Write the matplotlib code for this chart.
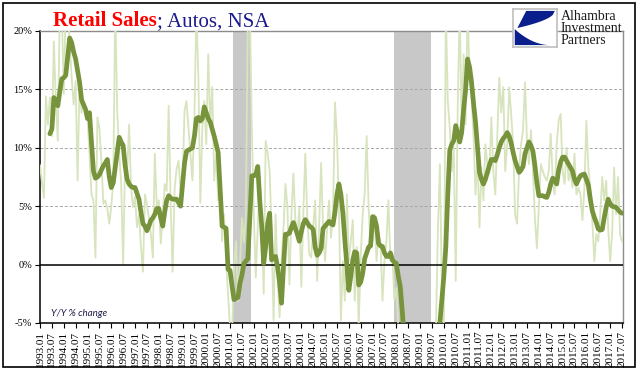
"""Retail Sales; Autos, NSA - Y/Y % change"""

import numpy as np
import matplotlib
matplotlib.use("Agg")
import matplotlib.pyplot as plt
from matplotlib.patches import Rectangle, Polygon

# monthly Y/Y % change, Jan 1993 .. Jul 2017 (raw, light line)
raw_1993 = [8.5, 7.0, 5.7, 14.4, 12.0, 14.3, 11.0, 19.1, 14.0, 10.6, 22.0, 22.0]
raw_1994 = [14.6, 22.0, 22.0, 19.0, 16.0, 13.7, 15.7, 7.2, 15.7, 13.0, 14.0, 13.4]
raw_1995 = [12.6, 9.5, 6.0, 5.5, 0.6, 12.6, 11.7, 8.9, 5.2, 5.5, 4.8, 3.5]
raw_1996 = [5.0, 7.0, 22.0, 13.2, 9.5, 7.0, 0.0, 9.0, 7.7, 12.0, 6.6, 4.9]
raw_1997 = [5.8, 3.2, 4.3, 1.5, -0.6, 6.0, 5.2, 4.0, 2.6, 0.6, 9.5, 5.0]
raw_1998 = [5.5, 1.8, 4.0, 6.9, 6.3, 13.6, 5.3, -0.6, 6.5, 8.2, 8.9, 6.3]
raw_1999 = [6.8, 13.2, 14.0, 11.7, 9.5, 7.2, 12.6, 22.0, 16.0, 5.3, 11.7, 14.0]
raw_2000 = [10.3, 18.0, 12.0, 15.2, 7.2, 9.5, 5.5, 6.9, 2.0, 4.3, 0.3, -2.5]
raw_2001 = [-5.5, -6.0, -0.3, 2.0, -3.1, -0.2, 4.0, 1.9, 4.3, 22.0, 22.0, 11.7]
raw_2002 = [4.3, -1.1, 3.2, 7.5, 4.0, -2.5, 10.6, 9.5, 8.0, 2.6, -4.8, 4.3]
raw_2003 = [-0.8, -4.5, 0.3, 3.2, 6.9, 4.9, -1.7, 4.3, 7.8, 3.8, 2.6, 4.9]
raw_2004 = [-1.9, 4.3, 9.5, 4.3, 0.9, 0.6, 3.2, 5.5, -1.4, 3.2, 8.7, 3.2]
raw_2005 = [0.3, 3.0, 5.5, 2.3, 4.3, 13.9, 10.9, 5.0, -4.8, 0.3, -3.1, 6.0]
raw_2006 = [0.3, 2.0, 3.8, -3.1, 1.5, -5.2, 0.6, 4.3, 6.0, 11.0, 4.9, 1.5]
raw_2007 = [2.0, 4.3, 0.3, 2.6, 2.0, -3.1, 0.3, 2.0, 5.5, 0.3, 0.9, -3.0]
raw_2008 = [-2.0, -5.5, -7.0, -9.0, -12.0, -15.0, -17.0, -19.0, -22.0, -25.0, -28.0, -30.0]
raw_2009 = [-30.0, -25.0, -24.0, -22.0, -20.0, -15.0, -10.0, -8.0, -5.5, 3.0, 8.6, -2.0]
raw_2010 = [-5.5, 22.0, 14.0, 11.7, 8.0, 10.0, -1.4, 13.4, 22.0, 12.0, 18.0, 12.0]
raw_2011 = [22.0, 16.0, 14.6, 10.9, 6.0, 9.5, 3.2, 8.3, 5.5, 10.3, 8.5, 7.8]
raw_2012 = [12.6, 8.0, 6.0, 11.0, 16.0, 13.0, 15.2, 8.0, 10.3, 15.2, 12.9, 10.3]
raw_2013 = [4.3, 3.5, 8.0, 10.3, 11.5, 15.6, 10.6, 8.6, 11.5, 8.0, 4.0, 1.4]
raw_2014 = [5.0, 8.6, 8.0, 7.5, 7.2, 8.0, 11.2, 7.2, 6.0, 10.3, 12.3, 12.9]
raw_2015 = [8.0, 6.9, 10.0, 7.2, 8.0, 6.6, 9.5, 6.0, 6.6, 6.0, 3.8, 6.6]
raw_2016 = [12.3, 8.3, 6.6, 3.8, 0.3, 2.6, 2.0, 4.3, 7.5, 5.5, 7.2, 3.2]
raw_2017 = [0.3, 2.6, 8.3, 4.3, 7.5, 2.6, 2.0]

# smoothed series (dark line), starts Jun 1993
avg_1993 = [np.nan] * 5 + [11.2, 11.6, 14.3, 14.0, 13.6, 14.8, 15.9]
avg_1994 = [16.0, 16.2, 17.8, 19.4, 19.0, 18.2, 17.6, 16.6, 15.6, 14.1, 13.7, 13.3]
avg_1995 = [12.5, 13.0, 10.5, 8.0, 7.4, 7.5, 7.7, 8.1, 8.45, 8.7, 9.0, 7.5]
avg_1996 = [6.6, 7.0, 8.3, 9.6, 10.9, 10.5, 10.2, 8.5, 7.3, 6.9, 6.7, 6.6]
avg_1997 = [6.6, 6.1, 5.6, 4.5, 3.5, 3.3, 2.9, 3.3, 3.8, 4.0, 4.3, 4.8]
avg_1998 = [4.8, 4.0, 3.3, 4.5, 5.5, 5.9, 5.7, 5.6, 5.6, 5.6, 5.3, 5.0]
avg_1999 = [6.8, 8.7, 9.7, 9.8, 9.9, 10.0, 11.0, 12.5, 12.6, 12.3, 12.5, 13.5]
avg_2000 = [13.0, 12.5, 12.2, 11.6, 11.0, 10.3, 9.6, 6.5, 3.3, 3.2, 3.1, -0.4]
avg_2001 = [-0.5, -1.8, -3.0, -2.9, -2.8, -1.6, -0.9, 0.1, 0.3, 0.5, 4.0, 7.6]
avg_2002 = [7.6, 7.7, 8.4, 5.5, 3.3, 0.1, 1.5, 3.5, 4.4, 0.4, 0.6, 0.7]
avg_2003 = [-0.2, -1.5, -3.3, -0.2, 2.6, 2.6, 2.7, 3.2, 3.6, 3.1, 2.6, 2.0]
avg_2004 = [2.8, 3.5, 3.85, 3.6, 3.3, 3.2, 3.0, 1.5, 0.8, 1.0, 1.4, 3.1]
avg_2005 = [3.3, 3.5, 3.7, 3.5, 3.4, 4.5, 6.0, 6.9, 6.0, 4.4, 2.1, 0.0]
avg_2006 = [-2.2, -1.0, 0.4, 1.1, 1.0, -1.75, -1.5, -0.75, 0.5, 1.0, 1.5, 1.6]
avg_2007 = [4.1, 4.0, 3.3, 1.8, 1.6, 1.55, 1.0, 0.7, 0.7, 1.0, 0.4, 0.2]
avg_2008 = [0.1, -1.0, -1.9, -4.0, -6.5, -9.0, -11.0, -13.0, -15.0, -17.0, -19.0, -20.0]
avg_2009 = [-21.0, -20.0, -19.0, -18.0, -16.0, -15.0, -13.0, -11.0, -9.0, -7.0, -5.0, -3.0]
avg_2010 = [-1.0, 1.5, 6.0, 9.8, 10.3, 10.6, 11.9, 11.2, 10.5, 11.3, 13.3, 15.0]
avg_2011 = [17.6, 16.9, 15.6, 13.8, 12.2, 10.0, 7.9, 7.3, 6.9, 7.3, 7.9, 8.5]
avg_2012 = [9.0, 9.0, 8.9, 9.4, 10.0, 10.5, 10.8, 11.0, 11.3, 11.0, 10.4, 9.6]
avg_2013 = [8.9, 8.4, 7.9, 8.1, 8.4, 9.5, 10.0, 10.5, 10.2, 9.7, 8.5, 7.0]
avg_2014 = [5.9, 5.9, 5.9, 5.8, 5.75, 6.2, 6.9, 7.4, 7.2, 6.9, 8.1, 8.8]
avg_2015 = [9.2, 9.2, 8.9, 8.6, 8.3, 8.0, 7.3, 6.9, 7.3, 7.6, 7.7, 7.75]
avg_2016 = [7.3, 6.8, 5.6, 4.6, 4.05, 3.6, 3.05, 2.95, 3.0, 4.0, 4.9, 5.6]
avg_2017 = [5.2, 5.0, 4.95, 4.9, 4.7, 4.5, 4.4]

start_year = 1993
tick_labels = [f"{y}.{m:02d}" for y in range(1993, 2018) for m in (1, 7)]
recessions = [("2001.03", "2001.11"), ("2007.12", "2009.06")]
y_ticks = [-5, 0, 5, 10, 15, 20]

raw = np.array(raw_1993 + raw_1994 + raw_1995 + raw_1996 + raw_1997 + raw_1998
               + raw_1999 + raw_2000 + raw_2001 + raw_2002 + raw_2003 + raw_2004
               + raw_2005 + raw_2006 + raw_2007 + raw_2008 + raw_2009 + raw_2010
               + raw_2011 + raw_2012 + raw_2013 + raw_2014 + raw_2015 + raw_2016
               + raw_2017)
avg = np.array(avg_1993 + avg_1994 + avg_1995 + avg_1996 + avg_1997 + avg_1998
               + avg_1999 + avg_2000 + avg_2001 + avg_2002 + avg_2003 + avg_2004
               + avg_2005 + avg_2006 + avg_2007 + avg_2008 + avg_2009 + avg_2010
               + avg_2011 + avg_2012 + avg_2013 + avg_2014 + avg_2015 + avg_2016
               + avg_2017)


def month_index(label):
    """'YYYY.MM' -> months since Jan of start year"""
    y, m = label.split(".")
    return (int(y) - start_year) * 12 + int(m) - 1


W, H = 641, 375
serif = "Liberation Serif"

fig = plt.figure(figsize=(W / 100, H / 100), dpi=100)
fig.patch.set_facecolor("white")

ax = fig.add_axes([40 / W, 1 - 323 / H, 583 / W, 292 / H])
x = np.arange(len(raw))

# recession shading
for s, e in recessions:
    ax.axvspan(month_index(s) - 0.3, month_index(e) + 0.6, color="#C8C8C8", lw=0, zorder=1)

# gridlines
for v in [5, 10, 15]:
    ax.axhline(v, color="#A6A6A6", lw=0.7, ls=(0, (3, 2)), zorder=2)

ax.plot(x, raw, color="#D7E4BD", lw=1.3, zorder=3)
ax.axhline(0, color="black", lw=1.1, zorder=4)
ax.plot(x, avg, color="#77933C", lw=3.4, solid_joinstyle="round",
        solid_capstyle="round", zorder=5)

ax.set_xlim(0, len(raw) - 0.5)
ax.set_ylim(-5, 20)

ax.set_yticks(y_ticks)
ax.set_yticklabels([f"{v}%" for v in y_ticks], fontsize=7.5, family=serif)
ax.set_xticks([month_index(t) for t in tick_labels])
ax.set_xticklabels(tick_labels, rotation=90, fontsize=8, family=serif)
ax.tick_params(axis="both", direction="out", length=3.5, width=0.8, pad=2, colors="black")

for side in ["left", "bottom"]:
    ax.spines[side].set_color("black")
    ax.spines[side].set_linewidth(1.1)
for side in ["top", "right"]:
    ax.spines[side].set_color("#8C8C8C")
    ax.spines[side].set_linewidth(1.0)

ax.text(51 / W, 1 - 316 / H, "Y/Y % change", transform=fig.transFigure,
        fontsize=7, style="italic", family="Lato", color="#1F1F4A", va="baseline")

# title in two colours
t1 = fig.text(53 / W, 1 - 26 / H, "Retail Sales", color="#FF0000", fontsize=15,
              fontweight="bold", family=serif, va="baseline")
fig.canvas.draw()
bb = t1.get_window_extent()
fig.text(bb.x1 / W, 1 - 26 / H, "; Autos, NSA", color="#1A1A8C", fontsize=15,
         family=serif, va="baseline")

# logo
lax = fig.add_axes([513 / W, 1 - 47 / H, 44 / W, 38 / H])
lax.set_xlim(0, 1)
lax.set_ylim(0, 1)
lax.set_xticks([])
lax.set_yticks([])
lax.set_facecolor("white")
for sp in lax.spines.values():
    sp.set_color("#BFBFBF")
    sp.set_linewidth(1.2)
xs = np.linspace(0, 0.85, 20)
lower = [(0.04, 0.05)] + list(zip(0.04 + xs * 0.95, 0.05 + 0.42 * (1 - xs / 0.85) ** 2))
lax.add_patch(Polygon(lower, closed=True, color="#0A1E8C", lw=0))
ts = np.linspace(0, 1, 20)
upper = [(0.3, 0.95), (0.95, 0.95)] + list(zip(0.95 - 0.85 * ts, 0.95 - 0.45 * np.sqrt(ts)))
lax.add_patch(Polygon(upper, closed=True, color="#0A1E8C", lw=0))

fig.text(561 / W, 1 - 44 / H, "Alhambra\nInvestment\nPartners", fontsize=10,
         family=serif, color="#1A1A1A", va="baseline", linespacing=0.92)

# outer frame
fig.patches.append(Rectangle((3 / W, 1 - 367 / H), 632 / W, 364 / H, fill=False,
                             edgecolor="black", lw=1.2, transform=fig.transFigure))

fig.savefig("out.png", dpi=100)
